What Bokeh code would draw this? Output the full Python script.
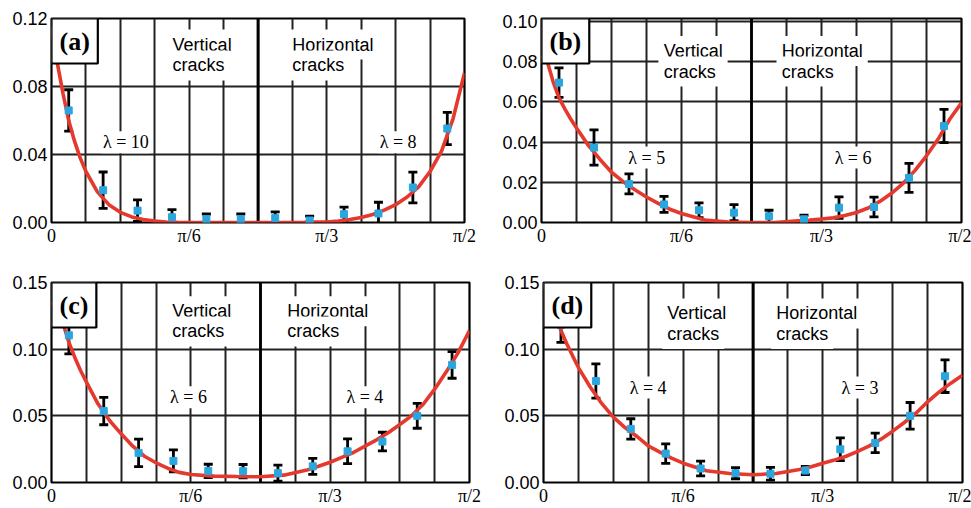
from bokeh.plotting import figure
from bokeh.models import (ColumnDataSource, FixedTicker, Whisker, TeeHead, Label, Span,
                          Range1d, PrintfTickFormatter)
from bokeh.layouts import column, row
from bokeh.embed import file_html
from bokeh.resources import INLINE

# ---------------- data ----------------
# angle positions in degrees (0 .. 90 = 0 .. pi/2)
theta = [3.75, 11.25, 18.75, 26.25, 33.75, 41.25, 48.75, 56.25, 63.75, 71.25, 78.75, 86.25]
x_grid = [0, 7.5, 15, 22.5, 30, 37.5, 45, 52.5, 60, 67.5, 75, 82.5, 90]
x_ticks = [0, 30, 60, 90]
x_tick_labels = ["0", "π/6", "π/3", "π/2"]

curve_x = [0, 1.25, 2.5, 3.75, 5, 6.25, 7.5, 10, 12.5, 15, 17.5, 20, 22.5, 25, 27.5, 30, 35,
           40, 45, 50, 55, 57.5, 60, 62.5, 65, 67.5, 70, 72.5, 75, 77.5, 80, 82.5, 85, 87.5, 90]

# panel (a)
a_y = [0.0659, 0.0190, 0.0070, 0.0031, 0.0020, 0.0020, 0.0027, 0.0012, 0.0049, 0.0053, 0.0206, 0.0553]
a_err = [0.0122, 0.0107, 0.0063, 0.0045, 0.0030, 0.0030, 0.0035, 0.0025, 0.0041, 0.0066, 0.0090, 0.0095]
a_curve = [0.115, 0.094, 0.076, 0.060, 0.048, 0.038, 0.030, 0.018, 0.0105, 0.006, 0.0033, 0.0017,
           0.0008, 0.0003, 0.0001, 0.0, 0.0, 0.0, 0.0, 0.0, 0.0001, 0.0002, 0.0003, 0.0008, 0.0018,
           0.003, 0.0047, 0.0073, 0.0105, 0.015, 0.021, 0.030, 0.042, 0.061, 0.088]
a_yticks = [0.0, 0.04, 0.08, 0.12]

# panel (b)
b_y = [0.0696, 0.0373, 0.0192, 0.0090, 0.0061, 0.0049, 0.0031, 0.0016, 0.0074, 0.0077, 0.0222, 0.0480]
b_err = [0.0073, 0.0088, 0.0050, 0.0040, 0.0037, 0.0040, 0.0030, 0.0020, 0.0053, 0.0049, 0.0072, 0.0083]
b_curve = [0.083, 0.080, 0.070, 0.062, 0.0565, 0.0515, 0.047, 0.0385, 0.0315, 0.025, 0.0203, 0.0163,
           0.0127, 0.0095, 0.0066, 0.0045, 0.0012, 0.0002, 0.0, 0.0, 0.0008, 0.0012, 0.0017, 0.0023,
           0.0035, 0.005, 0.0072, 0.0105, 0.0145, 0.0195, 0.0258, 0.0332, 0.0415, 0.0515, 0.0595]
b_yticks = [0.0, 0.02, 0.04, 0.06, 0.08, 0.10]

# panel (c)
c_y = [0.1104, 0.0536, 0.0222, 0.0162, 0.0087, 0.0085, 0.0070, 0.0121, 0.0234, 0.0307, 0.0500, 0.0882]
c_err = [0.0140, 0.0103, 0.0103, 0.0083, 0.0050, 0.0050, 0.0060, 0.0060, 0.0093, 0.0070, 0.0093, 0.0100]
c_curve = [0.136, 0.127, 0.119, 0.105, 0.094, 0.084, 0.0755, 0.059, 0.0465, 0.0365, 0.0272, 0.0197,
           0.0148, 0.0107, 0.0076, 0.006, 0.0048, 0.0045, 0.0043, 0.0055, 0.0093, 0.0122, 0.0152,
           0.0188, 0.0225, 0.0273, 0.032, 0.0373, 0.0435, 0.050, 0.0585, 0.070, 0.083, 0.097, 0.114]
c_yticks = [0.0, 0.05, 0.10, 0.15]

# panel (d)
d_y = [0.1183, 0.0761, 0.0402, 0.0217, 0.0105, 0.0070, 0.0066, 0.0090, 0.0249, 0.0297, 0.0500, 0.0797]
d_err = [0.0132, 0.0128, 0.0076, 0.0073, 0.0055, 0.0042, 0.0048, 0.0030, 0.0085, 0.0073, 0.0100, 0.0122]
d_curve = [0.150, 0.138, 0.126, 0.114, 0.104, 0.095, 0.0862, 0.0718, 0.0593, 0.049, 0.0412, 0.0347,
           0.0274, 0.0228, 0.0183, 0.0145, 0.0088, 0.0068, 0.0058, 0.0067, 0.0097, 0.0118, 0.0145,
           0.0168, 0.0197, 0.0233, 0.0275, 0.0325, 0.0385, 0.045, 0.052, 0.0605, 0.068, 0.0745, 0.0805]
d_yticks = [0.0, 0.05, 0.10, 0.15]

RED = "#e5392e"
BLUE = "#2aa6df"
GRID = "#222222"
SANS = "Liberation Sans"
SERIF = "Liberation Serif"


def make_panel(tag, ys, errs, curve, yticks, ytop, lam_left, lam_right, pos, size, borders):
    w, h = size
    bl, br, bt, bb = borders
    p = figure(width=w, height=h, output_backend="svg", toolbar_location=None,
               x_range=Range1d(0, 90), y_range=Range1d(0, ytop),
               min_border_left=bl, min_border_right=br, min_border_top=bt, min_border_bottom=bb,
               background_fill_color="white", border_fill_color="white")
    p.outline_line_color = "black"
    p.outline_line_width = 2.2

    # axes
    p.xaxis.ticker = FixedTicker(ticks=x_ticks)
    p.xaxis.major_label_overrides = {t: l for t, l in zip(x_ticks, x_tick_labels)}
    p.yaxis.ticker = FixedTicker(ticks=yticks)
    p.yaxis.formatter = PrintfTickFormatter(format="%.2f")
    for ax in (p.xaxis[0], p.yaxis[0]):
        ax.axis_line_color = None
        ax.major_tick_line_color = None
        ax.minor_tick_line_color = None
        ax.major_tick_out = 0
        ax.major_tick_in = 0
        ax.minor_tick_out = 0
        ax.major_label_text_color = "black"
    p.xaxis.major_label_text_font = SERIF
    p.xaxis.major_label_text_font_size = "18px"
    p.xaxis.major_label_standoff = 3
    p.yaxis.major_label_text_font = SANS
    p.yaxis.major_label_text_font_size = "18px"
    p.yaxis.major_label_standoff = 4

    # grid
    p.xgrid.ticker = FixedTicker(ticks=x_grid)
    p.ygrid.ticker = FixedTicker(ticks=yticks)
    for g in (p.xgrid[0], p.ygrid[0]):
        g.grid_line_color = GRID
        g.grid_line_width = 2
    p.add_layout(Span(location=45, dimension="height", line_color="black", line_width=2.8,
                      level="underlay"))

    src = ColumnDataSource(dict(x=theta, y=ys,
                                lo=[v - e for v, e in zip(ys, errs)],
                                hi=[v + e for v, e in zip(ys, errs)]))
    wk = Whisker(base="x", lower="lo", upper="hi", source=src, line_color="black", line_width=2.8,
                 upper_head=TeeHead(size=9, line_width=2.8, line_color="black"),
                 lower_head=TeeHead(size=9, line_width=2.8, line_color="black"))
    p.add_layout(wk)
    p.line(curve_x, curve, line_color=RED, line_width=3.6)
    p.scatter("x", "y", source=src, marker="square", size=7, fill_color=BLUE, line_color=BLUE)

    # text boxes
    (vx, vy1, vy2, hx) = pos["crack"]
    for txt, x, y in (("Vertical", vx, vy1), ("cracks", vx, vy2),
                      ("Horizontal", hx, vy1), ("cracks", hx, vy2)):
        p.add_layout(Label(x=x, y=y, text=txt, text_font=SANS, text_font_size="18px",
                           text_align="left", text_baseline="middle", text_color="black",
                           background_fill_color="white", padding=5))
    (lx, rx, ly) = pos["lam"]
    for txt, x in ((lam_left, lx), (lam_right, rx)):
        p.add_layout(Label(x=x, y=ly, text=txt, text_font=SERIF, text_font_size="18px",
                           text_align="left", text_baseline="middle", text_color="black",
                           background_fill_color="white", padding=1))
    p.add_layout(Label(x=0, y=ytop, text=tag, text_font=SERIF, text_font_style="bold",
                       text_font_size="26px", text_align="left", text_baseline="top",
                       text_color="black", background_fill_color="white",
                       border_line_color="black", border_line_width=2.2, padding=8))
    return p


pa = make_panel("(a)", a_y, a_err, a_curve, a_yticks, 0.12, "λ = 10", "λ = 8",
                {"crack": (25.3, 0.1047, 0.0924, 51.4), "lam": (11.0, 71.3, 0.0472)},
                (485, 254), (51, 21, 18, 32))
pb = make_panel("(b)", b_y, b_err, b_curve, b_yticks, 0.1015, "λ = 5", "λ = 6",
                {"crack": (25.1, 0.0853, 0.0751, 50.4), "lam": (18.4, 62.6, 0.0323)},
                (486, 254), (56, 10, 16, 31))
pc = make_panel("(c)", c_y, c_err, c_curve, c_yticks, 0.15, "λ = 6", "λ = 4",
                {"crack": (24.9, 0.1285, 0.1133, 49.7), "lam": (25.3, 63.3, 0.064)},
                (485, 254), (51, 16, 28, 19))
pd_ = make_panel("(d)", d_y, d_err, d_curve, d_yticks, 0.15, "λ = 4", "λ = 3",
                 {"crack": (25.5, 0.1268, 0.1114, 48.9), "lam": (18.3, 63.8, 0.0712)},
                 (486, 254), (58, 9, 28, 21))

layout = column(row(pa, pb, spacing=0), row(pc, pd_, spacing=0), spacing=0)
open("out.html", "w").write(file_html(layout, INLINE))
